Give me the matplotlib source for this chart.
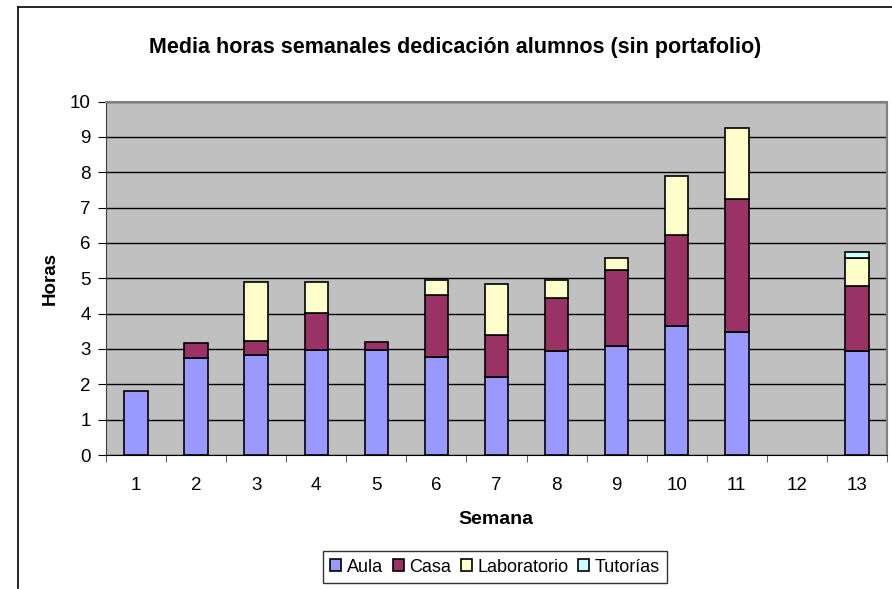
import matplotlib
matplotlib.use("Agg")
from matplotlib import pyplot as plt
from matplotlib.lines import Line2D
import numpy as np

plt.rcParams['font.family'] = ['Liberation Sans', 'DejaVu Sans']

semanas = ["1", "2", "3", "4", "5", "6", "7", "8", "9", "10", "11", "12", "13"]
aula = [1.80, 2.73, 2.82, 2.98, 2.98, 2.78, 2.20, 2.95, 3.07, 3.64, 3.49, 0, 2.95]
casa = [0, 0.43, 0.41, 1.03, 0.21, 1.76, 1.19, 1.50, 2.16, 2.59, 3.76, 0, 1.84]
laboratorio = [0, 0, 1.65, 0.87, 0, 0.42, 1.44, 0.50, 0.34, 1.67, 2.00, 0, 0.78]
tutorias = [0, 0, 0, 0, 0, 0, 0, 0, 0, 0, 0, 0, 0.16]

series = [("Aula", aula, "#9999FF"), ("Casa", casa, "#993366"),
          ("Laboratorio", laboratorio, "#FFFFCC"), ("Tutorías", tutorias, "#CCFFFF")]

W, H = 892, 589
fig = plt.figure(figsize=(W / 100, H / 100), dpi=100)

# outer chart frame (left and top edges visible)
fig.add_artist(Line2D([18 / W, 18 / W], [1 - 7 / H, 1 - 588 / H], color="black", lw=1.2))
fig.add_artist(Line2D([18 / W, 1], [1 - 7 / H, 1 - 7 / H], color="black", lw=1.2))

left, right, top, bottom = 106, 887, 101.5, 455
ax = fig.add_axes([left / W, 1 - bottom / H, (right - left) / W, (bottom - top) / H])
ax.set_facecolor("#C0C0C0")

x = np.arange(len(semanas))
base = np.zeros(len(semanas))
for name, vals, col in series:
    vals = np.array(vals)
    mask = vals > 0
    ax.bar(x[mask], vals[mask], bottom=base[mask], width=0.39, color=col,
           edgecolor="black", linewidth=1.2, label=name, zorder=3)
    base += vals

ax.set_xlim(-0.5, len(semanas) - 0.5)
ax.set_ylim(0, 10)
ax.set_yticks(range(11))
ax.yaxis.grid(True, color="black", linewidth=1, zorder=1)
ax.set_axisbelow(True)

ax.set_xticks(x)
ax.set_xticklabels(semanas, fontsize=13.5)
ax.set_xticks(np.arange(-0.5, len(semanas)), minor=True)
ax.tick_params(axis="x", which="major", length=0, pad=16)
ax.tick_params(axis="x", which="minor", length=5, direction="out", color="#404040")
ax.tick_params(axis="y", length=6, direction="out", labelsize=13.5, pad=5)

for side in ["top", "right"]:
    ax.spines[side].set_color("#808080")
    ax.spines[side].set_linewidth(1.5)
ax.spines["left"].set_color("#404040")
ax.spines["bottom"].set_color("black")

fig.text(50 / W, 1 - 279 / H, "Horas", rotation=90, ha="center", va="center",
         fontsize=13.5, fontweight="bold")
fig.text(496 / W, 1 - 519.5 / H, "Semana", ha="center", va="center",
         fontsize=14, fontweight="bold")
fig.text(455 / W, 1 - 47 / H, "Media horas semanales dedicación alumnos (sin portafolio)",
         ha="center", va="center", fontsize=15.5, fontweight="bold")

leg = fig.legend(loc="center", bbox_to_anchor=(495 / W, 1 - 567 / H), ncol=4,
                 fontsize=13, frameon=True, fancybox=False, edgecolor="black",
                 handlelength=0.6, handleheight=0.6, handletextpad=0.3,
                 columnspacing=0.55, borderpad=0.4)
leg.get_frame().set_linewidth(1)

fig.savefig("out.png", dpi=100)
